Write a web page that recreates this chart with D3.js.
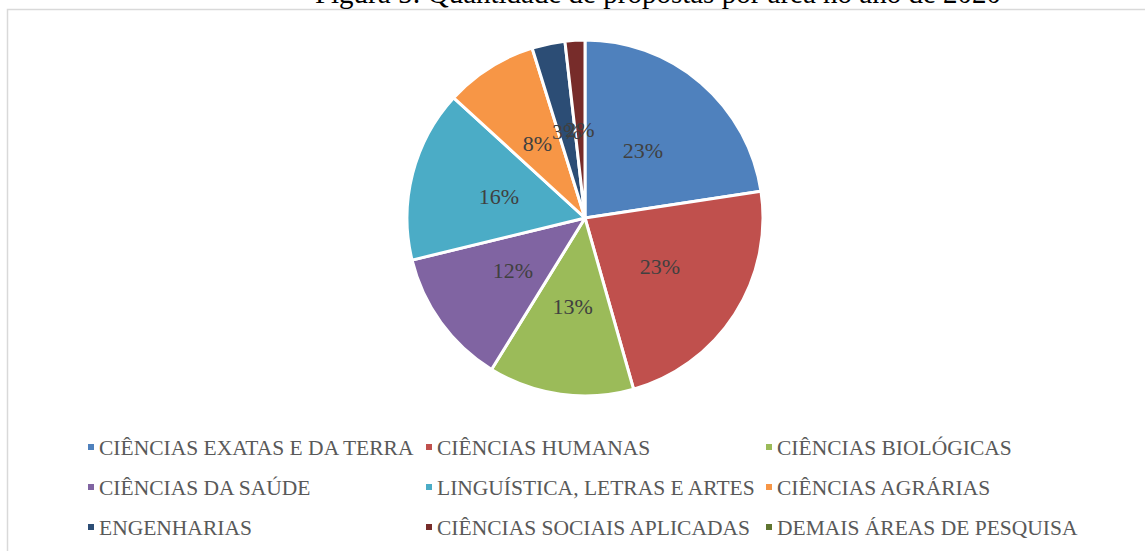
<!DOCTYPE html>
<html>
<head>
<meta charset="utf-8">
<script src="https://d3js.org/d3.v7.min.js"></script>
<style>
body { margin: 0; background: #fff; }
svg { display: block; font-family: "Liberation Serif", "Times New Roman", serif; }
</style>
</head>
<body>
<div id="chart"></div>
<script>
var areas = ["CIÊNCIAS EXATAS E DA TERRA", "CIÊNCIAS HUMANAS", "CIÊNCIAS BIOLÓGICAS",
    "CIÊNCIAS DA SAÚDE", "LINGUÍSTICA, LETRAS E ARTES", "CIÊNCIAS AGRÁRIAS",
    "ENGENHARIAS", "CIÊNCIAS SOCIAIS APLICADAS", "DEMAIS ÁREAS DE PESQUISA"];
var shares = [22.6, 23.0, 13.2, 12.4, 15.6, 8.4, 3.0, 1.8, 0];
var colors = ["#4f81bd", "#c0504d", "#9bbb59", "#8064a2", "#4bacc6", "#f79646", "#2c4d75", "#772c2a", "#5f7530"];

var width = 1145, height = 551;
var cx = 585, cy = 218, radius = 178;

var svg = d3.select("#chart").append("svg")
    .attr("width", width)
    .attr("height", height);

// chart frame (cut off at right/bottom)
svg.append("path")
    .attr("d", "M7.5,560 V9.5 H1150")
    .attr("fill", "none")
    .attr("stroke", "#d9d9d9")
    .attr("stroke-width", 1.5);

svg.append("text")
    .attr("x", 658)
    .attr("y", 3)
    .attr("text-anchor", "middle")
    .style("font-size", "29px")
    .attr("fill", "#000")
    .text("Figura 5: Quantidade de propostas por área no ano de 2020");

var data = areas.map(function (a, i) { return { area: a, value: shares[i], color: colors[i] }; });
var total = d3.sum(shares);

var pie = d3.pie().value(d => d.value).sort(null);
var arc = d3.arc().innerRadius(0).outerRadius(radius);
var labelArc = d3.arc().innerRadius(radius * 0.5).outerRadius(radius * 0.5);

var g = svg.append("g").attr("transform", `translate(${cx}, ${cy})`);
var slices = pie(data).filter(d => d.data.value > 0);

g.selectAll("path")
    .data(slices)
    .enter()
    .append("path")
    .attr("d", arc)
    .attr("fill", d => d.data.color)
    .attr("stroke", "#fff")
    .attr("stroke-width", 3)
    .attr("stroke-linejoin", "round");

g.selectAll("text")
    .data(slices)
    .enter()
    .append("text")
    .attr("transform", d => `translate(${labelArc.centroid(d)})`)
    .attr("text-anchor", "middle")
    .attr("dy", "0.35em")
    .style("font-size", "22px")
    .attr("fill", "#404040")
    .text(d => Math.round(d.data.value / total * 100) + "%");

// legend, 3 columns
var colX = [88, 426, 766];
var rowY = [447, 487, 527];
var legend = svg.append("g");
var items = legend.selectAll("g")
    .data(data)
    .enter()
    .append("g")
    .attr("transform", (d, i) => `translate(${colX[i % 3]}, ${rowY[Math.floor(i / 3)]})`);

items.append("rect")
    .attr("x", 0)
    .attr("y", -3)
    .attr("width", 6)
    .attr("height", 6)
    .attr("fill", d => d.color);

items.append("text")
    .attr("x", 11)
    .attr("dy", "0.35em")
    .style("font-size", "21.5px")
    .attr("fill", "#595959")
    .text(d => d.area);
</script>
</body>
</html>
